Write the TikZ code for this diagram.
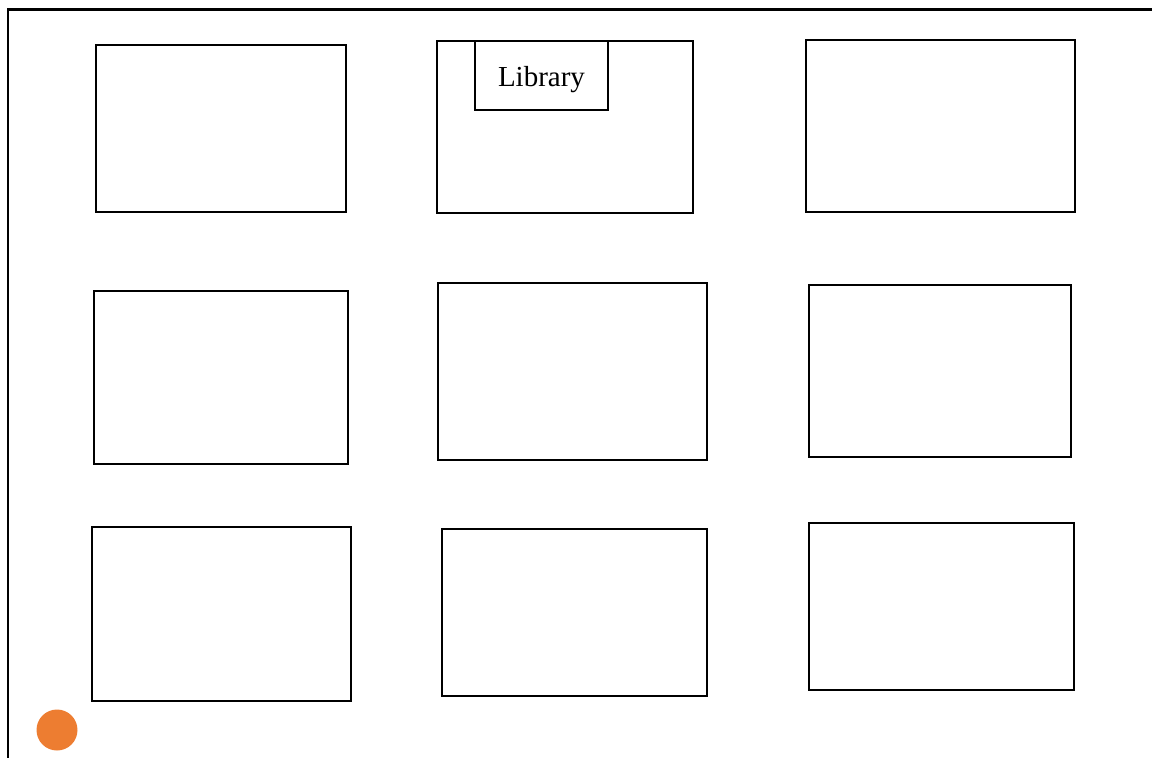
\documentclass[tikz,border=0pt]{standalone}
\usepackage{fontspec}
\setmainfont{Liberation Serif}
\definecolor{dotorange}{HTML}{ED7D31}
\begin{document}
\begin{tikzpicture}[x=1pt,y=-1pt,
  room/.style={draw=black,line width=2.2pt,fill=none,inner sep=0pt},
  label box/.style={draw=black,line width=1.3pt,fill=white,inner sep=0pt,minimum width=133pt,minimum height=69pt}]
\useasboundingbox (0,0) rectangle (1152,758);
\draw[line width=2.8pt] (8,758) -- (8,9.5) -- (1152,9.5);
% row 1
\node[room,minimum width=250pt,minimum height=167pt] (r11) at (221,128.5) {};
\node[room,minimum width=256pt,minimum height=172pt] (r12) at (565,127) {};
\node[room,minimum width=269pt,minimum height=172pt] (r13) at (940.5,126) {};
% row 2
\node[room,minimum width=254pt,minimum height=173pt] (r21) at (221,377.5) {};
\node[room,minimum width=269pt,minimum height=177pt] (r22) at (572.5,371.5) {};
\node[room,minimum width=262pt,minimum height=172pt] (r23) at (940,371) {};
% row 3
\node[room,minimum width=259pt,minimum height=174pt] (r31) at (221.5,614) {};
\node[room,minimum width=265pt,minimum height=167pt] (r32) at (574.5,612.5) {};
\node[room,minimum width=265pt,minimum height=167pt] (r33) at (941.5,606.5) {};
% library label
\node[label box,label={[font=\fontsize{29}{34}\selectfont,yshift=-4pt]center:Library}] (lib) at (541.5,75.5) {};
% orange dot
\fill[dotorange] (57,730) circle (20.5);
\end{tikzpicture}
\end{document}
